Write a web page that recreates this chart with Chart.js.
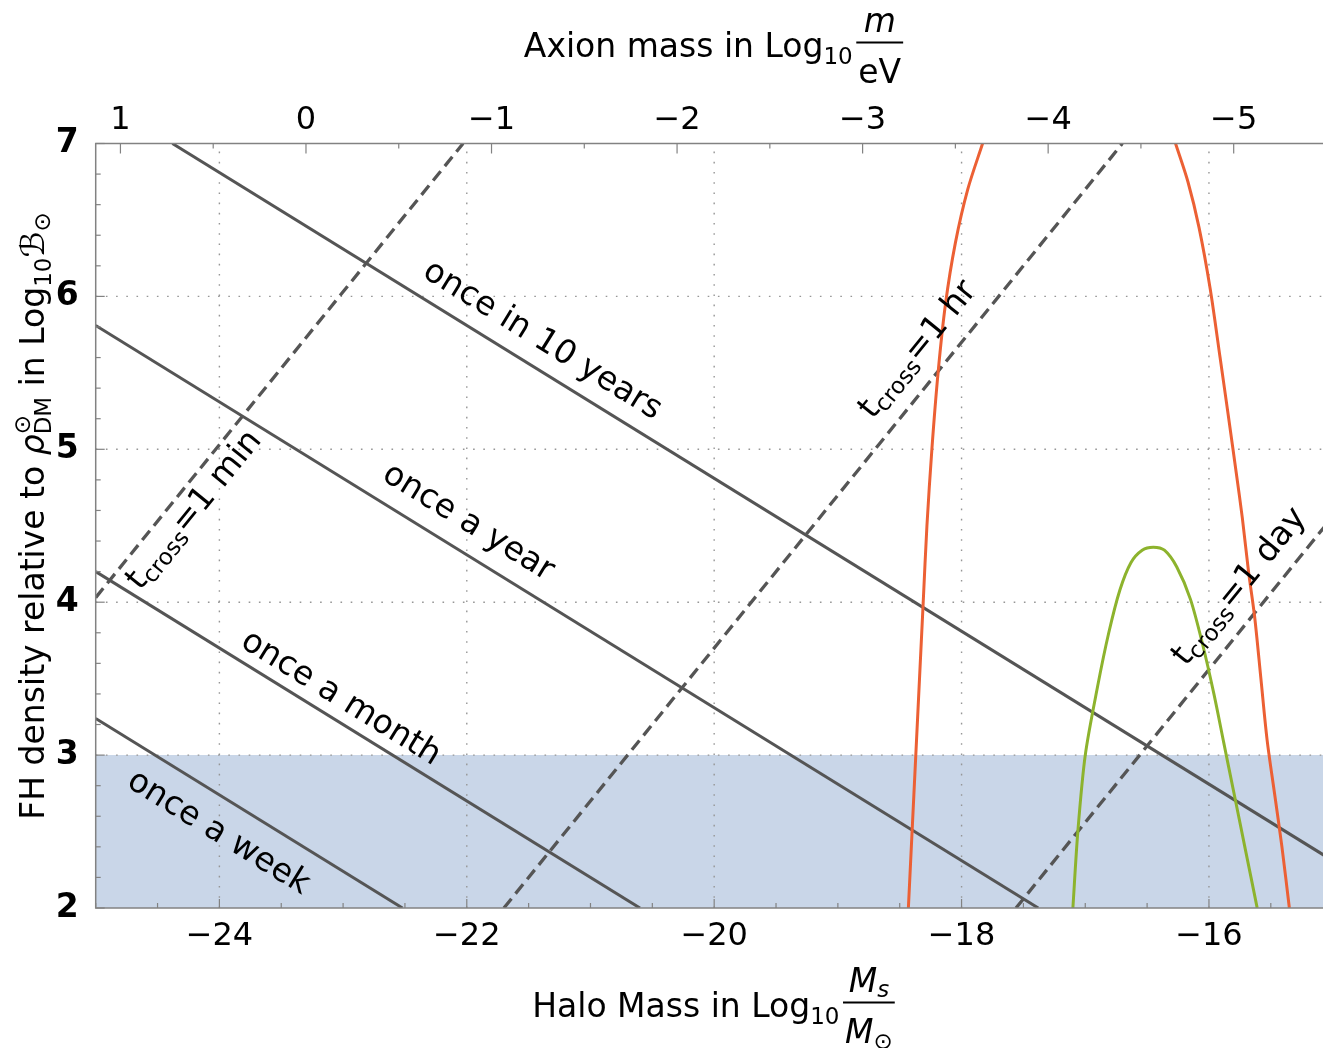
<!DOCTYPE html>
<html>
<head>
<meta charset="utf-8">
<script src="https://cdn.jsdelivr.net/npm/chart.js@4.4.1/dist/chart.umd.min.js"></script>
<style>
html, body { margin: 0; padding: 0; background: #fff; overflow: hidden; }
canvas { display: block; }
</style>
</head>
<body>
<canvas id="fh" width="1323" height="1048"></canvas>
<script>
// axis ranges: halo mass (log10 Ms/Msun) and FH density (log10 B)
const haloRange = [-25, -15.078];
const densityRange = [2, 7];
const haloTicks = [-24, -22, -20, -18, -16];
const densityTicks = [2, 3, 4, 5, 6, 7];
const axionTicks = [1, 0, -1, -2, -3, -4, -5];
// halo = axionOffset + axionSlope * log10(m/eV)
const axionOffset = -23.30;
const axionSlope = -1.5;

// encounter rate lines (solid)
const onceAWeek = [[-25, 3.24], [-22.52, 2.0]];
const onceAMonth = [[-25, 4.20], [-20.60, 2.0]];
const onceAYear = [[-25, 5.81], [-17.38, 2.0]];
const onceIn10Years = [[-24.38, 7.0], [-15, 2.31]];

// crossing time lines (dashed)
const tCross1Min = [[-25, 4.03], [-22.03, 7.0]];
const tCross1Hr = [[-21.70, 2.0], [-16.70, 7.0]];
const tCross1Day = [[-17.56, 2.0], [-15, 4.56]];

// red contour, two branches leaving through the top
const redLeft = [[-18.43, 2.0], [-18.40, 2.5], [-18.37, 3.0], [-18.34, 3.5], [-18.31, 4.0],
  [-18.28, 4.5], [-18.24, 5.0], [-18.19, 5.5], [-18.13, 5.95], [-18.05, 6.35], [-17.95, 6.7],
  [-17.83, 7.0]];
const redRight = [[-16.27, 7.0], [-16.17, 6.75], [-16.08, 6.45], [-15.99, 6.05], [-15.91, 5.6],
  [-15.84, 5.2], [-15.78, 4.85], [-15.73, 4.55], [-15.68, 4.2], [-15.63, 3.9], [-15.58, 3.5],
  [-15.53, 3.1], [-15.47, 2.75], [-15.41, 2.4], [-15.35, 2.0]];

// green contour
const greenArch = [[-17.10, 2.0], [-17.06, 2.5], [-17.00, 3.0], [-16.90, 3.45], [-16.81, 3.8],
  [-16.72, 4.08], [-16.63, 4.26], [-16.54, 4.34], [-16.45, 4.36], [-16.36, 4.34], [-16.26, 4.23],
  [-16.15, 4.02], [-16.05, 3.72], [-15.96, 3.40], [-15.88, 3.08], [-15.80, 2.76], [-15.71, 2.40],
  [-15.61, 2.0]];

// excluded band (density below 10^3)
const shadeTop = [[-25, 3], [-15, 3]];

const F = '"DejaVu Sans"';
const reg = s => `${s}px ${F}`;
const ita = s => `italic ${s}px ${F}`;

// in-plot labels: text runs, centre in data coords, slope of the line they follow
const lineLabels = [
  { runs: [{ t: 'once in 10 years' }], x: -21.39, y: 5.71, slope: -0.5 },
  { runs: [{ t: 'once a year' }], x: -21.99, y: 4.52, slope: -0.5 },
  { runs: [{ t: 'once a month' }], x: -23.02, y: 3.37, slope: -0.5 },
  { runs: [{ t: 'once a week' }], x: -24.01, y: 2.49, slope: -0.5 },
  { runs: [{ t: 't' }, { t: 'cross', sub: true }, { t: '=1 min' }], x: -24.20, y: 4.60, slope: 1 },
  { runs: [{ t: 't' }, { t: 'cross', sub: true }, { t: '=1 hr' }], x: -18.35, y: 5.65, slope: 1 },
  { runs: [{ t: 't' }, { t: 'cross', sub: true }, { t: '=1 day' }], x: -15.75, y: 4.10, slope: 1 }
];

const gray = 'rgb(85,85,85)';
const pts = arr => arr.map(([x, y]) => ({ x, y }));

function solid(data) {
  return { data: pts(data), borderColor: gray, borderWidth: 3, pointRadius: 0,
    showLine: true, tension: 0, clip: 0, order: 3 };
}
function dashed(data) {
  return { ...solid(data), borderWidth: 3.3, borderDash: [12, 6.5] };
}
function contour(data, color) {
  return { data: pts(data), borderColor: color, borderWidth: 3, pointRadius: 0,
    showLine: true, tension: 0.3, clip: 0, order: 1 };
}

// rich text helpers
function runWidth(ctx, r) {
  if (r.stack) return Math.max(...r.stack.map(s => runWidth(ctx, s)));
  if (r.frac) return Math.max(seqWidth(ctx, r.frac[0]), seqWidth(ctx, r.frac[1])) + 6;
  ctx.font = r.font;
  return ctx.measureText(r.t).width;
}
function seqWidth(ctx, seq) { return seq.reduce((s, r) => s + runWidth(ctx, r), 0); }
function drawSeq(ctx, seq, x, y) {
  for (const r of seq) {
    const w = runWidth(ctx, r);
    if (r.stack) {
      r.stack.forEach(s => drawSeq(ctx, [s], x, y));
    } else if (r.frac) {
      ctx.fillRect(x + 1, y - 15.5, w - 2, 2);
      const wn = seqWidth(ctx, r.frac[0]), wd = seqWidth(ctx, r.frac[1]);
      drawSeq(ctx, r.frac[0], x + (w - wn) / 2, y - 25);
      drawSeq(ctx, r.frac[1], x + (w - wd) / 2, y + 26);
    } else {
      ctx.font = r.font;
      ctx.fillText(r.t, x, y + (r.dy || 0));
    }
    x += w;
  }
}

const bottomTitle = [
  { t: 'Halo Mass in Log', font: reg(33) }, { t: '10', font: reg(23), dy: 7 },
  { t: ' ', font: reg(8) },
  { frac: [[{ t: 'M', font: ita(33) }, { t: 's', font: ita(23), dy: 5 }],
           [{ t: 'M', font: ita(33) }, { t: '\u2299', font: reg(23), dy: 6 }]] }
];
const topTitle = [
  { t: 'Axion mass in Log', font: reg(33) }, { t: '10', font: reg(23), dy: 7 },
  { t: ' ', font: reg(8) },
  { frac: [[{ t: 'm', font: ita(33) }], [{ t: 'eV', font: reg(33) }]] }
];
const leftTitle = [
  { t: 'FH density relative to ', font: reg(33) }, { t: '\u03C1', font: ita(33) },
  { stack: [{ t: '\u2299', font: reg(23), dy: -14 }, { t: 'DM', font: reg(23), dy: 7 }] },
  { t: ' in Log', font: reg(33) }, { t: '10', font: reg(23), dy: 7 },
  { t: '\u212C', font: ita(33) }, { t: '\u2299', font: reg(23), dy: 6 }
];

const frameColor = 'rgb(130,130,130)';

const framePlugin = {
  id: 'framePlugin',
  afterDatasetDraw(chart, args) {
    if (args.index !== 0) return;
    // dotted grid above the shaded band
    const { ctx, chartArea: a, scales: { x, y } } = chart;
    ctx.save();
    ctx.strokeStyle = 'rgb(150,150,150)';
    ctx.lineWidth = 1.4;
    ctx.setLineDash([1.6, 8.6]);
    haloTicks.forEach(v => {
      const px = x.getPixelForValue(v);
      ctx.beginPath(); ctx.moveTo(px, a.bottom); ctx.lineTo(px, a.top); ctx.stroke();
    });
    densityTicks.slice(1, -1).forEach(v => {
      const py = y.getPixelForValue(v);
      ctx.beginPath(); ctx.moveTo(a.left, py); ctx.lineTo(a.right, py); ctx.stroke();
    });
    ctx.restore();
  },
  afterDatasetsDraw(chart) {
    const { ctx, chartArea: a, scales: { x, y, xTop } } = chart;
    ctx.save();
    ctx.strokeStyle = frameColor;
    ctx.lineWidth = 1.5;
    ctx.beginPath();
    ctx.moveTo(a.right + 2, a.top); ctx.lineTo(a.left, a.top);
    ctx.lineTo(a.left, a.bottom); ctx.lineTo(a.right + 2, a.bottom);
    ctx.stroke();
    ctx.lineWidth = 1.2;
    const tick = (x0, y0, x1, y1) => { ctx.beginPath(); ctx.moveTo(x0, y0); ctx.lineTo(x1, y1); ctx.stroke(); };
    // bottom ticks every 0.5, major on labelled values
    for (let v = haloRange[0]; v <= -15; v += 0.5) {
      const px = x.getPixelForValue(v);
      if (px > a.right) continue;
      tick(px, a.bottom, px, a.bottom - (haloTicks.includes(v) ? 9 : 5));
    }
    // top ticks every half decade of axion mass
    for (let v = 1; v >= -5.5; v -= 0.5) {
      const px = xTop.getPixelForValue(v);
      if (px < a.left || px > a.right) continue;
      tick(px, a.top, px, a.top + (axionTicks.includes(v) ? 10 : 5));
    }
    // left ticks every 0.2
    for (let i = 0; i <= 25; i++) {
      const v = densityRange[0] + i * 0.2;
      const py = y.getPixelForValue(v);
      tick(a.left, py, a.left + (i % 5 === 0 ? 9 : 5), py);
    }
    ctx.restore();

    // labels along the lines
    ctx.save();
    ctx.fillStyle = '#000';
    ctx.textBaseline = 'middle';
    lineLabels.forEach(l => {
      const seq = l.runs.map(r => r.sub ? { t: r.t, font: reg(23), dy: 8 } : { t: r.t, font: reg(33) });
      const w = seqWidth(ctx, seq);
      const p0 = [x.getPixelForValue(l.x), y.getPixelForValue(l.y)];
      const p1 = [x.getPixelForValue(l.x + 1), y.getPixelForValue(l.y + l.slope)];
      ctx.save();
      ctx.translate(p0[0], p0[1]);
      ctx.rotate(Math.atan2(p1[1] - p0[1], p1[0] - p0[0]));
      drawSeq(ctx, seq, -w / 2, 0);
      ctx.restore();
    });
    ctx.restore();
  },
  afterDraw(chart) {
    const { ctx } = chart;
    ctx.save();
    ctx.fillStyle = '#000';
    ctx.textBaseline = 'alphabetic';
    let w = seqWidth(ctx, bottomTitle);
    drawSeq(ctx, bottomTitle, 714 - w / 2, 1017);
    w = seqWidth(ctx, topTitle);
    drawSeq(ctx, topTitle, 714 - w / 2, 57);
    w = seqWidth(ctx, leftTitle);
    ctx.translate(44, 516);
    ctx.rotate(-Math.PI / 2);
    drawSeq(ctx, leftTitle, -w / 2, 0);
    ctx.restore();
  }
};

const minusFmt = v => (v < 0 ? '\u2212' + Math.abs(v) : String(v));

new Chart(document.getElementById('fh'), {
  type: 'scatter',
  data: {
    datasets: [
      { data: pts(shadeTop), fill: 'start', backgroundColor: 'rgb(201,214,232)',
        borderWidth: 0, pointRadius: 0, showLine: true, order: 10 },
      solid(onceAWeek), solid(onceAMonth), solid(onceAYear), solid(onceIn10Years),
      dashed(tCross1Min), dashed(tCross1Hr), dashed(tCross1Day),
      contour(redLeft, 'rgb(236,96,52)'), contour(redRight, 'rgb(236,96,52)'),
      contour(greenArch, 'rgb(141,179,45)')
    ]
  },
  options: {
    responsive: false,
    animation: false,
    devicePixelRatio: 1,
    layout: { padding: 0, autoPadding: false },
    plugins: { legend: { display: false }, tooltip: { enabled: false } },
    scales: {
      x: {
        type: 'linear', position: 'bottom', min: haloRange[0], max: haloRange[1],
        grid: { display: false }, border: { display: false },
        afterBuildTicks: s => { s.ticks = haloTicks.map(v => ({ value: v })); },
        afterFit: s => { s.height = 140; },
        ticks: { autoSkip: false, maxRotation: 0, minRotation: 0, padding: 1, color: '#000',
          font: { family: 'DejaVu Sans', size: 32 }, callback: minusFmt }
      },
      xTop: {
        type: 'linear', position: 'top', reverse: true,
        min: (haloRange[1] - axionOffset) / axionSlope,
        max: (haloRange[0] - axionOffset) / axionSlope,
        grid: { display: false }, border: { display: false },
        afterBuildTicks: s => { s.ticks = axionTicks.map(v => ({ value: v })); },
        afterFit: s => { s.height = 143.5; },
        ticks: { autoSkip: false, maxRotation: 0, minRotation: 0, padding: -4, color: '#000',
          font: { family: 'DejaVu Sans', size: 32 }, callback: minusFmt }
      },
      y: {
        type: 'linear', position: 'left', min: densityRange[0], max: densityRange[1],
        grid: { display: false }, border: { display: false },
        afterBuildTicks: s => { s.ticks = densityTicks.map(v => ({ value: v })); },
        afterFit: s => { s.width = 95.7; },
        ticks: { autoSkip: false, padding: 9, color: '#000',
          font: { family: 'DejaVu Sans', size: 33, weight: 'bold' } }
      }
    }
  },
  plugins: [framePlugin]
});
</script>
</body>
</html>
